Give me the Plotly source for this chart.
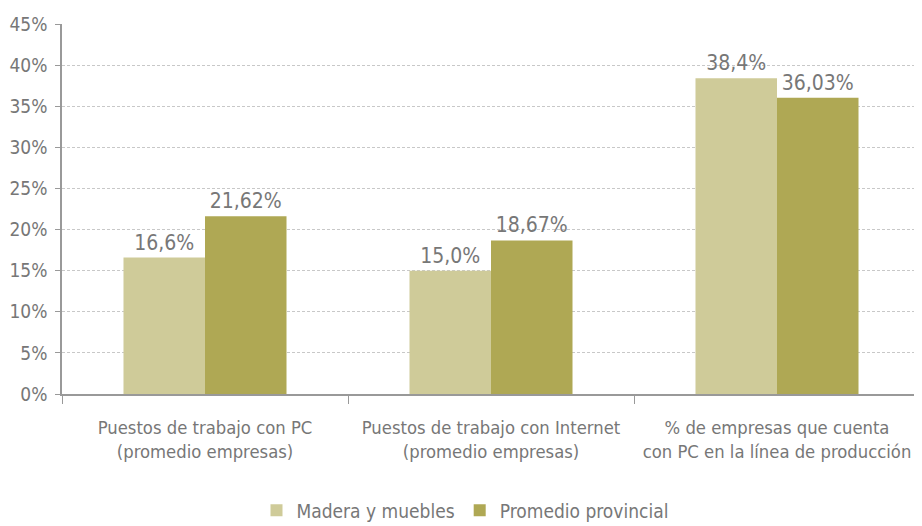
import plotly.graph_objects as go

categories = ["Puestos de trabajo con PC<br>(promedio empresas)",
              "Puestos de trabajo con Internet<br>(promedio empresas)",
              "% de empresas que cuenta<br>con PC en la línea de producción"]
madera = [16.6, 15.0, 38.4]
promedio = [21.62, 18.67, 36.03]
series_names = ["Madera y muebles", "Promedio provincial"]
y_ticks = [0, 5, 10, 15, 20, 25, 30, 35, 40, 45]

FONT = "DejaVu Sans Condensed, Liberation Sans Narrow, Arial Narrow, sans-serif"
TXT = "#777777"

def fmt(v, d):
    return (f"{v:.{d}f}").replace(".", ",") + "%"

fig = go.Figure()
fig.add_trace(go.Bar(x=categories, y=madera, name=series_names[0],
                     marker=dict(color="#cfcb99", line=dict(width=0)),
                     text=[fmt(v, 1) for v in madera], textposition="outside",
                     textfont=dict(size=21, color=TXT, family=FONT), cliponaxis=False))
fig.add_trace(go.Bar(x=categories, y=promedio, name=series_names[1],
                     marker=dict(color="#afa854", line=dict(width=0)),
                     text=[fmt(v, 2) for v in promedio], textposition="outside",
                     textfont=dict(size=21, color=TXT, family=FONT), cliponaxis=False))

fig.update_layout(
    width=914, height=518,
    margin=dict(l=54, r=2, t=16, b=132),
    paper_bgcolor="white", plot_bgcolor="white",
    barmode="group", bargap=0.43, bargroupgap=0,
    font=dict(family=FONT, size=19, color=TXT),
    showlegend=True,
    legend=dict(orientation="h", xref="container", yref="container",
                x=0.5, xanchor="center", y=0.03, yanchor="middle",
                font=dict(size=19, color=TXT), itemsizing="constant",
                traceorder="normal", itemwidth=30),
    xaxis=dict(showline=True, linecolor="#999999", linewidth=1.5,
               ticks="outside", tickson="boundaries", ticklen=8,
               tickcolor="#999999", tickfont=dict(size=18.3, color=TXT),
               tickangle=0, automargin=False, ticklabelstandoff=16,
               showgrid=False),
    yaxis=dict(range=[0, 45], tickvals=y_ticks,
               ticktext=[f"{v}%" for v in y_ticks],
               showline=True, linecolor="#999999", linewidth=1.5,
               ticks="outside", ticklen=5, tickcolor="#999999",
               showgrid=True, gridcolor="#c8c8c8", griddash="3px,2px", gridwidth=1,
               zeroline=False, automargin=False, ticklabelstandoff=4,
               tickfont=dict(size=19, color=TXT)),
)
fig.write_html("out.html")
